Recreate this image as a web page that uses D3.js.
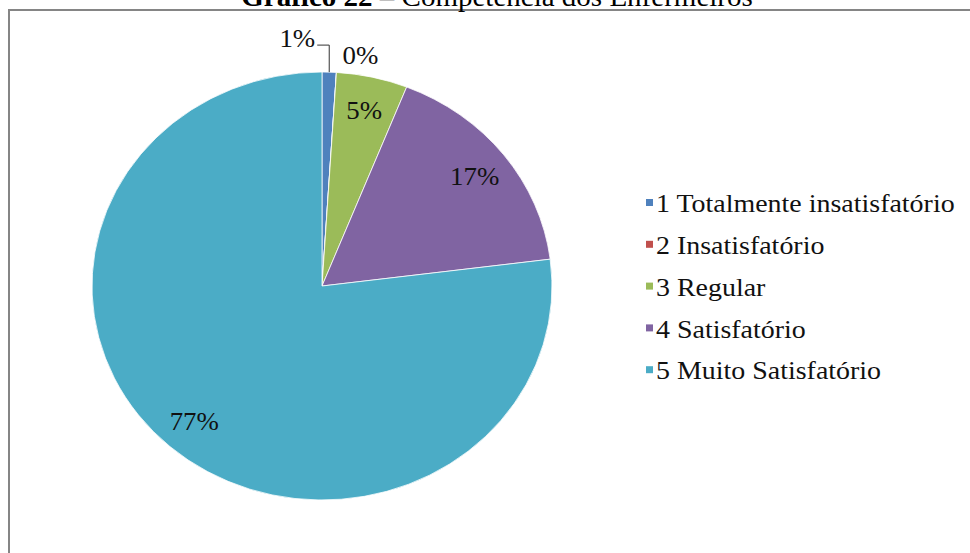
<!DOCTYPE html>
<html>
<head>
<meta charset="utf-8">
<script src="https://cdn.jsdelivr.net/npm/d3@7"></script>
<style>
  body { margin: 0; background: #fff; }
  svg { display: block; }
  svg text { font-family: "Liberation Serif", "Times New Roman", serif; }
</style>
</head>
<body>
<div id="chart"></div>
<script>
// categories and their shares (percent)
var categories = ["1 Totalmente insatisfatório", "2 Insatisfatório", "3 Regular", "4 Satisfatório", "5 Muito Satisfatório"];
var values = [1, 0, 5, 17, 77];
var colors = ["#4F81BD", "#C0504D", "#9BBB59", "#8064A2", "#4BACC6"];

var width = 970, height = 553;

//pie is a bit wider than tall in the original (scanned page stretched sideways)
var cx = 322, cy = 286;
var rx = 230, ry = 214;
var sy = ry / rx;
var sx = 1.075; //same sideways stretch for the texts

var svg = d3.select("#chart").append("svg")
    .attr("width", width)
    .attr("height", height);

//chart frame (right and bottom edges fall outside the picture)
svg.append("rect")
    .attr("x", 9).attr("y", 10)
    .attr("width", 1000).attr("height", 600)
    .attr("fill", "none")
    .attr("stroke", "#858585")
    .attr("stroke-width", 2);

//title, cut off at the top like in the scan
var title = svg.append("text")
    .attr("transform", "translate(497,6) scale(" + sx + ",1)")
    .attr("text-anchor", "middle")
    .attr("font-size", 27)
    .attr("fill", "#000");
title.append("tspan").attr("font-weight", "bold").text("Gráfico 22");
title.append("tspan").text(" – Competência dos Enfermeiros");

var pie = d3.pie().sort(null).value(function (d) { return d; });
var arcs = pie(values);

var arc = d3.arc().innerRadius(0).outerRadius(rx);
var labelArc = d3.arc().innerRadius(rx * 0.84).outerRadius(rx * 0.84);

var g = svg.append("g")
    .attr("transform", "translate(" + cx + "," + cy + ") scale(1," + sy + ")");

g.selectAll(".slice")
    .data(arcs)
    .enter().append("path")
    .attr("class", "slice")
    .attr("d", arc)
    .attr("fill", function (d, i) { return colors[i]; })
    .attr("stroke", "#fff")
    .attr("stroke-width", 0.8);

//helper: point on the (squashed) pie for a given angle & radius
function pt(angle, r) {
    return [cx + Math.sin(angle) * r, cy - Math.cos(angle) * r * sy];
}

function place(x, y) {
    return "translate(" + x + "," + y + ") scale(" + sx + ",1)";
}

//inside labels for the larger slices
var lbl = svg.append("g")
    .attr("font-size", 25)
    .attr("fill", "#111");

arcs.forEach(function (d, i) {
    if (d.value < 3) return;
    var c = labelArc.centroid(d);
    lbl.append("text")
        .attr("transform", place(cx + c[0], cy + c[1] * sy))
        .attr("dy", "0.35em")
        .attr("text-anchor", "middle")
        .text(d.value + "%");
});

//small slices: labels outside the pie
var a1 = arcs[0], a2 = arcs[1];
var m1 = (a1.startAngle + a1.endAngle) / 2;
var p1 = pt(m1, rx);
svg.append("path")
    .attr("d", "M" + p1[0] + "," + p1[1] + "V" + (p1[1] - 27) + "H" + (p1[0] - 12))
    .attr("fill", "none")
    .attr("stroke", "#333")
    .attr("stroke-width", 1);
lbl.append("text")
    .attr("transform", place(p1[0] - 14, p1[1] - 34))
    .attr("dy", "0.35em")
    .attr("text-anchor", "end")
    .text(a1.value + "%");

var p2 = pt(a2.startAngle, rx);
lbl.append("text")
    .attr("transform", place(p2[0] + 24, p2[1] - 17))
    .attr("dy", "0.35em")
    .attr("text-anchor", "middle")
    .text(a2.value + "%");

//legend
var legend = svg.append("g")
    .attr("transform", "translate(646,203)");

var rows = legend.selectAll(".row")
    .data(categories)
    .enter().append("g")
    .attr("class", "row")
    .attr("transform", function (d, i) { return "translate(0," + (i * 41.8) + ")"; });

rows.append("rect")
    .attr("x", 0).attr("y", -4)
    .attr("width", 7).attr("height", 7)
    .attr("fill", function (d, i) { return colors[i]; });

rows.append("text")
    .attr("transform", "translate(10,0) scale(" + sx + ",1)")
    .attr("dy", "0.35em")
    .attr("font-size", 26)
    .attr("fill", "#111")
    .text(function (d) { return d; });
</script>
</body>
</html>
